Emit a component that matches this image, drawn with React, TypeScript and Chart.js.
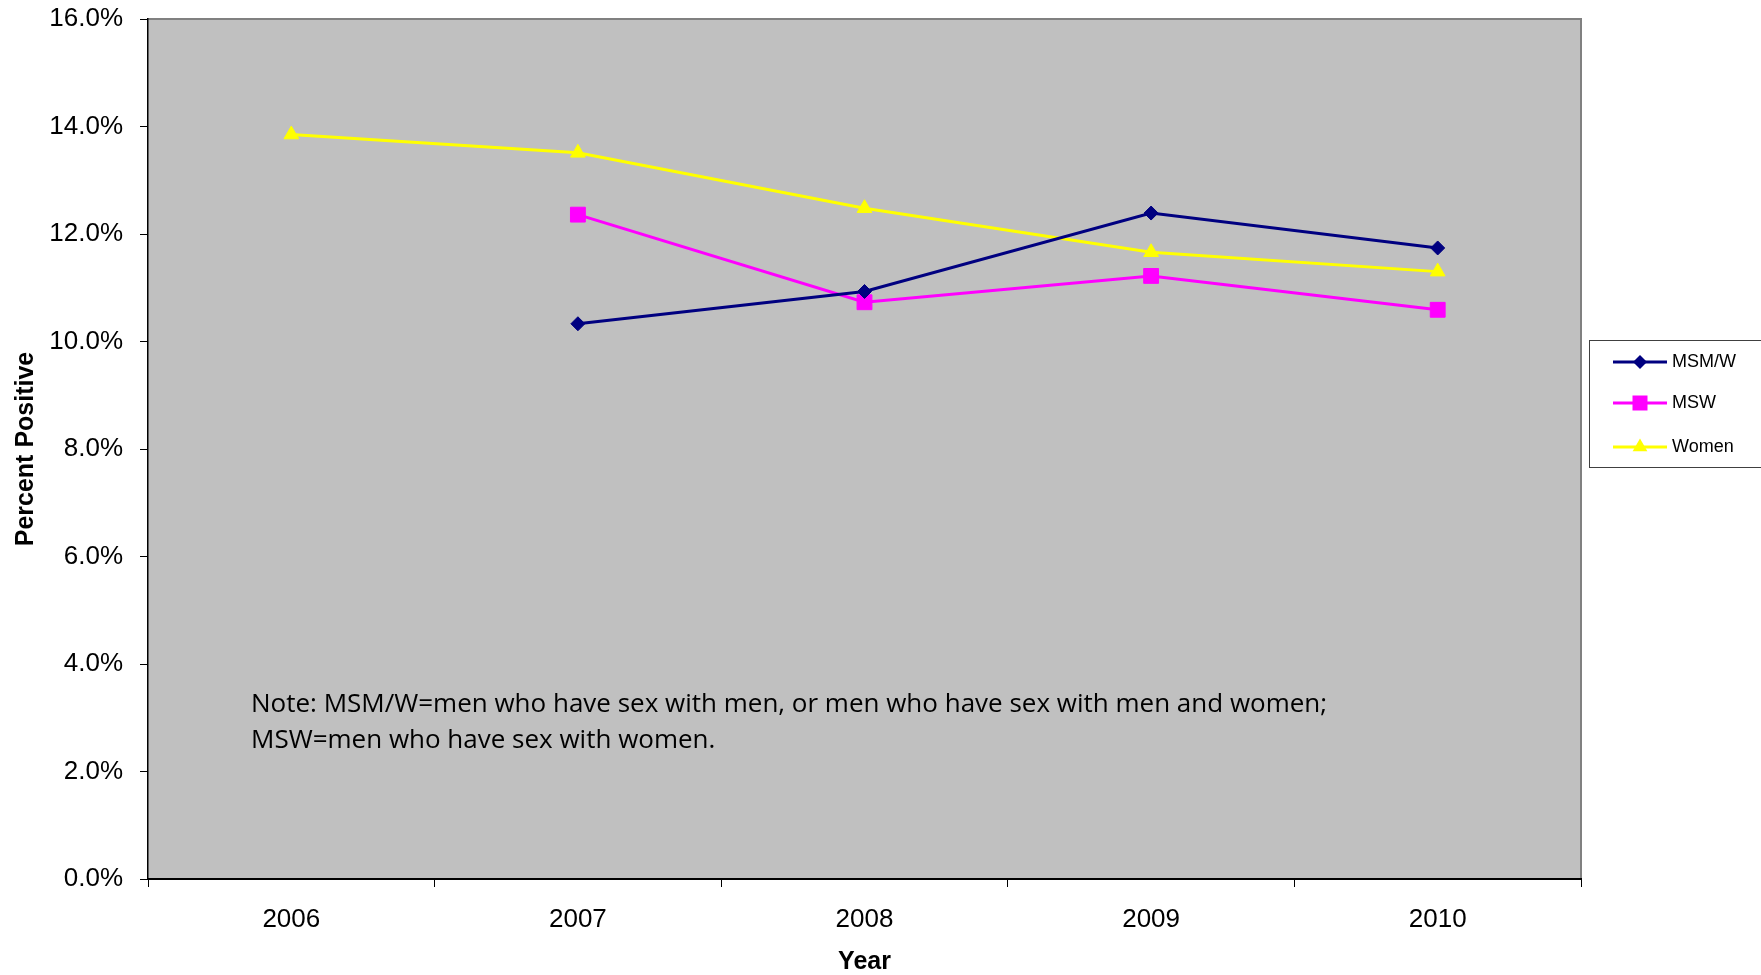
import React, { useEffect, useRef } from "react";
import { Chart, registerables } from "chart.js";

Chart.register(...registerables);

const years = ["2006", "2007", "2008", "2009", "2010"];
const msmw = [null, 10.33, 10.93, 12.39, 11.74];
const msw = [null, 12.36, 10.73, 11.22, 10.59];
const women = [13.85, 13.51, 12.48, 11.66, 11.3];
const seriesNames = ["MSM/W", "MSW", "Women"];
const seriesColors = ["#000080", "#FF00FF", "#FFFF00"];
const noteLines = [
  "Note: MSM/W=men who have sex with men, or men who have sex with men and women;",
  "MSW=men who have sex with women.",
];
const yTitle = "Percent Positive";
const xTitle = "Year";

const W = 1761;
const H = 975;
const FONT = "'Liberation Sans', Arial, sans-serif";

function markerPath(ctx: CanvasRenderingContext2D, kind: number, x: number, y: number) {
  ctx.beginPath();
  if (kind === 0) {
    const r = 7;
    ctx.moveTo(x - r, y);
    ctx.lineTo(x, y - r);
    ctx.lineTo(x + r, y);
    ctx.lineTo(x, y + r);
  } else if (kind === 1) {
    const s = 7.5;
    ctx.rect(x - s, y - s, 2 * s, 2 * s);
  } else {
    const r = 8.5;
    ctx.moveTo(x, y - r);
    ctx.lineTo(x + r * 0.866, y + r * 0.5);
    ctx.lineTo(x - r * 0.866, y + r * 0.5);
  }
  ctx.closePath();
}

const decorPlugin = {
  id: "decor",
  beforeDraw(chart: any) {
    const { ctx, chartArea } = chart;
    const { left, top, right, bottom } = chartArea;
    ctx.save();
    ctx.fillStyle = "#FFFFFF";
    ctx.fillRect(0, 0, W, H);
    ctx.fillStyle = "#C0C0C0";
    ctx.fillRect(left, top, right - left, bottom - top);
    ctx.strokeStyle = "#808080";
    ctx.lineWidth = 2;
    ctx.beginPath();
    ctx.moveTo(left, top);
    ctx.lineTo(right, top);
    ctx.lineTo(right, bottom);
    ctx.stroke();
    // note
    ctx.fillStyle = "#000000";
    ctx.font = "26px 'Open Sans', sans-serif";
    ctx.textBaseline = "alphabetic";
    ctx.textAlign = "left";
    ctx.fillText(noteLines[0], 251, 712);
    ctx.fillText(noteLines[1], 251, 748);
    ctx.restore();
  },
  afterDraw(chart: any) {
    const { ctx } = chart;
    ctx.save();
    ctx.fillStyle = "#FFFFFF";
    ctx.fillRect(1589, 340, 200, 127);
    ctx.strokeStyle = "#404040";
    ctx.lineWidth = 1;
    ctx.strokeRect(1589.5, 340.5, 200, 127);
    const rows = [362, 403, 447];
    for (let i = 0; i < 3; i++) {
      const y = rows[i];
      ctx.strokeStyle = seriesColors[i];
      ctx.lineWidth = 3;
      ctx.beginPath();
      ctx.moveTo(1613, y);
      ctx.lineTo(1667, y);
      ctx.stroke();
      ctx.fillStyle = seriesColors[i];
      markerPath(ctx, i, 1640, y);
      ctx.fill();
      ctx.fillStyle = "#000000";
      ctx.font = "18px " + FONT;
      ctx.textAlign = "left";
      ctx.textBaseline = "middle";
      ctx.fillText(seriesNames[i], 1672, y);
    }
    ctx.restore();
  },
};

export default function App() {
  const ref = useRef<HTMLCanvasElement | null>(null);
  useEffect(() => {
    if (!ref.current) return;
    const mk = (i: number, data: (number | null)[], style: string, radius: number) => ({
      label: seriesNames[i],
      data,
      borderColor: seriesColors[i],
      backgroundColor: seriesColors[i],
      borderWidth: 3,
      pointStyle: style,
      pointRadius: radius,
      pointHoverRadius: radius,
      pointBorderWidth: 1,
      pointBorderColor: seriesColors[i],
      pointBackgroundColor: seriesColors[i],
      tension: 0,
      spanGaps: false,
    });
    const chart = new Chart(ref.current, {
      type: "line",
      data: {
        labels: years,
        datasets: [
          mk(0, msmw, "rectRot", 7),
          mk(1, msw, "rect", 10.5),
          mk(2, women, "triangle", 8.5),
        ],
      },
      options: {
        responsive: false,
        animation: false,
        devicePixelRatio: 1,
        layout: { padding: { top: 19, right: 180, left: 0, bottom: 0 } },
        plugins: {
          legend: { display: false },
          tooltip: { enabled: false },
        },
        scales: {
          x: {
            type: "category",
            offset: true,
            grid: {
              display: true,
              drawOnChartArea: false,
              drawTicks: true,
              tickLength: 8,
              color: "#000000",
              offset: true,
            },
            border: { display: true, color: "#000000", width: 2 },
            ticks: {
              color: "#000000",
              font: { family: FONT, size: 26 },
              padding: 17,
              maxRotation: 0,
            },
            title: {
              display: true,
              text: xTitle,
              color: "#000000",
              font: { family: FONT, size: 25, weight: "bold", lineHeight: 1.0 },
              padding: { top: 0, bottom: 0 },
            },
            afterFit: (s: any) => {
              s.height = 96;
              s.paddingLeft = 0;
              s.paddingRight = 0;
            },
          },
          y: {
            min: 0,
            max: 16,
            grid: {
              display: true,
              drawOnChartArea: false,
              drawTicks: true,
              tickLength: 8,
              color: "#000000",
            },
            border: { display: true, color: "#000000", width: 1.5 },
            ticks: {
              stepSize: 2,
              color: "#000000",
              font: { family: FONT, size: 26 },
              padding: 17,
              callback: (v: any) => Number(v).toFixed(1) + "%",
            },
            title: {
              display: true,
              text: yTitle,
              color: "#000000",
              font: { family: FONT, size: 25, weight: "bold" },
              padding: { top: 11, bottom: 0 },
            },
            afterFit: (s: any) => {
              s.width = 148;
              s.paddingTop = 0;
              s.paddingBottom = 0;
            },
          },
        },
      },
      plugins: [decorPlugin],
    });
    return () => chart.destroy();
  }, []);
  return (
    <div style={{ position: "absolute", left: 0, top: 0, width: W, height: H, background: "#fff" }}>
      <canvas ref={ref} width={W} height={H} style={{ display: "block" }} />
    </div>
  );
}
